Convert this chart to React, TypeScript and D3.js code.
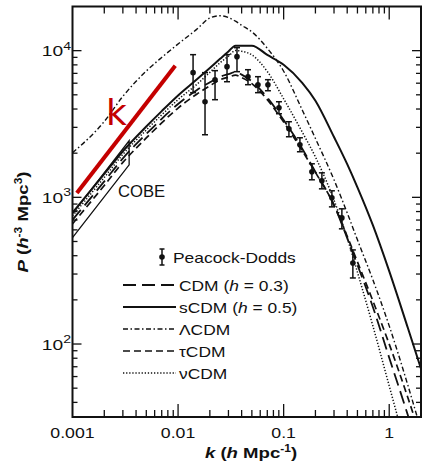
import React from "react";
import * as d3 from "d3";

// wavenumber grid (h Mpc^-1) on which the model curves were read
const kGrid = [0.001, 0.002, 0.003, 0.005, 0.007, 0.01, 0.015, 0.02, 0.025, 0.03, 0.035, 0.04, 0.05, 0.07, 0.1, 0.15, 0.2, 0.3, 0.4, 0.5, 0.7, 1, 1.5, 2];

// model power spectra P(k) in h^-3 Mpc^3
const pCDM03 = [702, 1284, 1843, 2704, 3428, 4327, 5376, 6086, 6645, 6912, 7145, 6860, 6172, 4786, 3365, 2147, 1491, 886, 527, 346, 179, 80.6, 32.8, 16.7];
const pSCDM05 = [784, 1444, 2061, 3039, 3870, 4951, 6350, 7620, 8790, 9875, 10820, 10820, 10820, 9346, 8013, 6040, 4560, 2576, 1683, 1170, 646, 314, 129, 67.9];
const pLCDM = [2013, 3290, 4880, 7260, 8990, 11100, 13970, 16700, 17300, 16800, 15880, 14900, 13430, 10380, 7240, 3940, 2520, 1317, 783, 513, 274, 133, 52.5, 25.9];
const pTauCDM = [659, 1205, 1730, 2540, 3220, 4063, 5049, 5760, 6340, 6593, 6815, 6562, 5953, 4637, 3262, 2080, 1479, 886, 543, 363, 197, 99.8, 43.2, 22.9];
const pNuCDM = [748, 1367, 1963, 2880, 3651, 4637, 5880, 7111, 8280, 9158, 10020, 9906, 9360, 7211, 4696, 2786, 1884, 957, 529, 309, 133, 51.8, 17.7, 8.2];

// Peacock-Dodds data points
const pdK = [0.01387, 0.018, 0.02239, 0.02908, 0.03614, 0.04596, 0.05713, 0.071, 0.0903, 0.1122, 0.1426, 0.1852, 0.2303, 0.2864, 0.3561, 0.4525];
const pdP = [7080, 4485, 6340, 7780, 9100, 6645, 5860, 5860, 4080, 2935, 2283, 1493, 1296, 992, 724, 357];
const pdHi = [9390, 7080, 7305, 9390, 10480, 7415, 6645, 6340, 4485, 3277, 2547, 1693, 1469, 1108, 835, 438];
const pdLo = [5170, 2671, 4630, 6140, 7190, 5860, 5170, 5330, 3715, 2588, 2045, 1317, 1143, 861, 610, 282];

// COBE box
const cobeK = [0.001, 0.00344];
const cobeHi = [774, 2431];
const cobeLo = [531, 1667];

// red annotation line (slope k)
const redK = [0.0011, 0.0094];
const redP = [1070, 7900];

const xTickValues = [0.001, 0.01, 0.1, 1];
const xTickLabels = ["0.001", "0.01", "0.1", "1"];
const yTickValues = [100, 1000, 10000];
const yTickExps = ["2", "3", "4"];

const legendNames = ["CDM", "sCDM", "\u039BCDM", "\u03C4CDM", "\u03BDCDM"];
const legendH = ["0.3", "0.5", "", "", ""];

const FONT = "'Liberation Sans', Arial, Helvetica, sans-serif";
const INK = "#111";
const RED = "#c40000";

const at = (x: number, y: number, sx: number) => `translate(${x},${y}) scale(${sx},1)`;

export default function App() {
  const W = 423, H = 471;
  const L = 72.5, R = 421, T = 6.5, B = 417;
  const x = d3.scaleLog().domain([0.001, 2]).range([L, R]);
  const y = d3.scaleLog().domain([31.8, 20000]).range([B, T]);
  const line = d3
    .line<[number, number]>()
    .x((d) => x(d[0]))
    .y((d) => y(d[1]))
    .curve(d3.curveMonotoneX);
  const straight = d3
    .line<[number, number]>()
    .x((d) => x(d[0]))
    .y((d) => y(d[1]));

  const series = [
    { p: pCDM03, dash: "13,6", w: 1.8 },
    { p: pSCDM05, dash: undefined, w: 2 },
    { p: pLCDM, dash: "5,2.5,1.5,2.5", w: 1.4 },
    { p: pTauCDM, dash: "7,4", w: 1.7 },
    { p: pNuCDM, dash: "1.3,1.8", w: 1.5 },
  ];

  const isMajor = (v: number) => Math.abs(Math.log10(v) - Math.round(Math.log10(v))) < 1e-9;
  const xt = x.ticks().filter((v) => x(v) > L + 1 && x(v) < R - 1);
  const yt = y.ticks().filter((v) => y(v) > T + 1 && y(v) < B - 1);

  const cobePath =
    straight([
      [cobeK[0], cobeHi[0]],
      [cobeK[1], cobeHi[1]],
      [cobeK[1], cobeLo[1]],
      [cobeK[0], cobeLo[0]],
    ] as [number, number][]) || "";

  const legendTop = 257;
  const rowY = (i: number) => 285 + i * 22;

  return (
    <svg
      width={W}
      height={H}
      viewBox={`0 0 ${W} ${H}`}
      style={{ position: "absolute", left: 0, top: 0, background: "#fff" }}
      fontFamily={FONT}
    >
      <defs>
        <clipPath id="plotClip">
          <rect x={L} y={T} width={R - L} height={B - T} />
        </clipPath>
      </defs>
      <rect x={0} y={0} width={W} height={H} fill="#fff" />

      {/* ticks */}
      <g stroke={INK} strokeWidth={1.3}>
        {xt.map((v, i) => {
          const len = isMajor(v) ? 13 : 7;
          const px = x(v);
          return (
            <g key={"xt" + i}>
              <line x1={px} x2={px} y1={B} y2={B - len} />
              <line x1={px} x2={px} y1={T} y2={T + len} />
            </g>
          );
        })}
        {yt.map((v, i) => {
          const len = isMajor(v) ? 9 : 5;
          const py = y(v);
          return (
            <g key={"yt" + i}>
              <line x1={L} x2={L + len} y1={py} y2={py} />
              <line x1={R} x2={R - len} y1={py} y2={py} />
            </g>
          );
        })}
      </g>

      {/* curves */}
      <g clipPath="url(#plotClip)" fill="none">
        <path d={cobePath} stroke={INK} strokeWidth={1.3} />
        {series.map((s, i) => (
          <path
            key={"s" + i}
            d={line(kGrid.map((k, j) => [k, s.p[j]] as [number, number])) || ""}
            stroke={INK}
            strokeWidth={s.w}
            strokeDasharray={s.dash}
          />
        ))}
      </g>

      {/* data */}
      <g stroke={INK} strokeWidth={1.5} fill={INK}>
        {pdK.map((k, i) => {
          const px = x(k);
          return (
            <g key={"pd" + i}>
              <line x1={px} x2={px} y1={y(pdHi[i])} y2={y(pdLo[i])} />
              <line x1={px - 3} x2={px + 3} y1={y(pdHi[i])} y2={y(pdHi[i])} />
              <line x1={px - 3} x2={px + 3} y1={y(pdLo[i])} y2={y(pdLo[i])} />
              <circle cx={px} cy={y(pdP[i])} r={2.8} stroke="none" />
            </g>
          );
        })}
      </g>

      {/* frame */}
      <rect x={L} y={T} width={R - L} height={B - T} fill="none" stroke={INK} strokeWidth={2} />

      {/* COBE label */}
      <text transform={at(118, 196.5, 1.04)} fontSize={16} fill={INK}>COBE</text>

      {/* x tick labels */}
      {xTickValues.map((v, i) => (
        <text key={"xl" + i} transform={at(x(v), 437.5, 1.18)} fontSize={15} textAnchor="middle" fill={INK}>
          {xTickLabels[i]}
        </text>
      ))}
      {/* y tick labels */}
      {yTickValues.map((v, i) => (
        <text key={"yl" + i} transform={at(71, y(v) + 5.5, 1.28)} fontSize={15} textAnchor="end" fill={INK}>
          <tspan>10</tspan>
          <tspan dy={-6.5} fontSize={11}>{yTickExps[i]}</tspan>
        </text>
      ))}

      {/* axis titles */}
      <text transform={at(251, 457.5, 1.2)} fontSize={15.5} fontWeight="bold" textAnchor="middle" fill={INK}>
        <tspan fontStyle="italic">k</tspan>
        <tspan> (</tspan>
        <tspan fontStyle="italic">h</tspan>
        <tspan> Mpc</tspan>
        <tspan dy={-6} fontSize={10}>-1</tspan>
        <tspan dy={6}>)</tspan>
      </text>
      <text
        transform="translate(28,222) rotate(-90) scale(1.2,1)"
        fontSize={15.5}
        fontWeight="bold"
        textAnchor="middle"
        fill={INK}
      >
        <tspan fontStyle="italic">P</tspan>
        <tspan> (</tspan>
        <tspan fontStyle="italic">h</tspan>
        <tspan dy={-6} fontSize={10}>-3</tspan>
        <tspan dy={6}> Mpc</tspan>
        <tspan dy={-6} fontSize={10}>3</tspan>
        <tspan dy={6}>)</tspan>
      </text>

      {/* legend */}
      <g stroke={INK} strokeWidth={1.5} fill={INK}>
        <line x1={162} x2={162} y1={legendTop - 8} y2={legendTop + 8} />
        <line x1={159.5} x2={164.5} y1={legendTop - 8} y2={legendTop - 8} />
        <line x1={159.5} x2={164.5} y1={legendTop + 8} y2={legendTop + 8} />
        <circle cx={162} cy={legendTop} r={2.8} stroke="none" />
      </g>
      <text transform={at(173, legendTop + 5.5, 1.16)} fontSize={15} fill={INK}>Peacock-Dodds</text>
      {legendNames.map((name, i) => (
        <g key={"lg" + i}>
          <line
            x1={123}
            x2={176}
            y1={rowY(i)}
            y2={rowY(i)}
            stroke={INK}
            strokeWidth={series[i].w}
            strokeDasharray={series[i].dash}
          />
          <text transform={at(179, rowY(i) + 5.5, 1.16)} fontSize={15} fill={INK}>
            <tspan>{name}</tspan>
            {legendH[i] ? (
              <>
                <tspan> (</tspan>
                <tspan fontStyle="italic">h</tspan>
                <tspan>{" = " + legendH[i] + ")"}</tspan>
              </>
            ) : null}
          </text>
        </g>
      ))}

      {/* red annotation */}
      <path
        d={straight(redK.map((k, i) => [k, redP[i]] as [number, number])) || ""}
        stroke={RED}
        strokeWidth={4}
        fill="none"
      />
      <text x={106} y={125} fontSize={36} fill={RED} fontFamily="'DejaVu Sans', 'Liberation Sans', sans-serif">
        k
      </text>
    </svg>
  );
}
